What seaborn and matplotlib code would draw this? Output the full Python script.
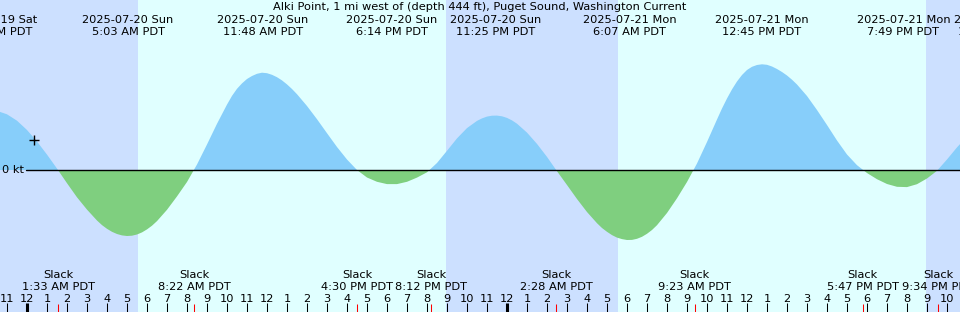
import numpy as np
import matplotlib
matplotlib.use("Agg")
import matplotlib.pyplot as plt
import matplotlib.transforms as mtransforms
import seaborn as sns

# ---------------- data ----------------
# hours since 2025-07-20 00:00 PDT and current speed (kt, + flood / - ebb)
hours = [
    -1.5, -1.0, -0.5, 0.0, 0.5, 1.0, 1.5, 2.0, 2.5, 3.0,
    3.5, 3.75, 4.0, 4.25, 4.5, 4.75, 5.0, 5.25, 5.5, 5.75,
    6.0, 6.25, 6.5, 7.0, 7.5, 8.0, 8.5, 9.0, 9.5, 10.0,
    10.25, 10.5, 10.75, 11.0, 11.25, 11.5, 11.75, 12.0, 12.25, 12.5,
    12.75, 13.0, 13.25, 13.5, 14.0, 14.5, 15.0, 15.5, 16.0, 16.5,
    17.0, 17.5, 18.0, 18.5, 19.0, 19.5, 20.0, 20.5, 21.0, 21.5,
    22.0, 22.5, 22.75, 23.0, 23.25, 23.5, 23.75, 24.0, 24.25, 24.5,
    25.0, 25.5, 26.0, 26.5, 27.0, 27.5, 28.0, 28.5, 28.75, 29.0,
    29.25, 29.5, 29.75, 30.0, 30.25, 30.5, 30.75, 31.0, 31.25, 31.5,
    32.0, 32.5, 33.0, 33.5, 34.0, 34.5, 34.75, 35.0, 35.25, 35.5,
    35.75, 36.0, 36.25, 36.5, 36.75, 37.0, 37.25, 37.5, 37.75, 38.0,
    38.25, 38.5, 39.0, 39.5, 40.0, 40.5, 41.0, 41.5, 42.0, 42.5,
    43.0, 43.5, 44.0, 44.5, 45.0, 45.5, 46.0, 46.5, 47.0,
]
current_kt = [
    0.591, 0.557, 0.493, 0.400, 0.285, 0.154, 0.014, -0.132, -0.273, -0.396,
    -0.505, -0.551, -0.588, -0.618, -0.640, -0.654, -0.660, -0.657, -0.645, -0.624,
    -0.594, -0.557, -0.511, -0.398, -0.264, -0.120, 0.055, 0.255, 0.462, 0.654,
    0.741, 0.812, 0.866, 0.910, 0.940, 0.962, 0.973, 0.968, 0.952, 0.928,
    0.896, 0.856, 0.810, 0.758, 0.640, 0.508, 0.368, 0.230, 0.105, 0.000,
    -0.075, -0.118, -0.141, -0.141, -0.118, -0.076, -0.023, 0.070, 0.192, 0.316,
    0.419, 0.491, 0.516, 0.534, 0.543, 0.544, 0.537, 0.521, 0.496, 0.463,
    0.374, 0.261, 0.131, -0.012, -0.150, -0.290, -0.420, -0.532, -0.580, -0.618,
    -0.651, -0.676, -0.691, -0.700, -0.699, -0.688, -0.668, -0.638, -0.600, -0.552,
    -0.430, -0.283, -0.120, 0.065, 0.280, 0.505, 0.615, 0.715, 0.806, 0.885,
    0.950, 1.000, 1.032, 1.050, 1.057, 1.052, 1.035, 1.010, 0.980, 0.945,
    0.903, 0.855, 0.740, 0.600, 0.450, 0.295, 0.155, 0.048, -0.030, -0.092,
    -0.140, -0.168, -0.171, -0.142, -0.085, -0.008, 0.105, 0.226, 0.335,
]

# max flood / max ebb events (top labels)
event_hours = [-1.7, 5.05, 11.8, 18.233, 23.417, 30.117, 36.75, 43.817, 48.55]
event_dates = ["2025-07-19 Sat", "2025-07-20 Sun", "2025-07-20 Sun", "2025-07-20 Sun",
               "2025-07-20 Sun", "2025-07-21 Mon", "2025-07-21 Mon", "2025-07-21 Mon",
               "2025-07-22 Tue"]
event_times = ["10:18 PM PDT", "5:03 AM PDT", "11:48 AM PDT", "6:14 PM PDT",
               "11:25 PM PDT", "6:07 AM PDT", "12:45 PM PDT", "7:49 PM PDT",
               "12:33 AM PDT"]

# slack events (bottom labels)
slack_hours = [1.55, 8.367, 16.5, 20.2, 26.467, 33.383, 41.783, 45.567]
slack_times = ["1:33 AM PDT", "8:22 AM PDT", "4:30 PM PDT", "8:12 PM PDT",
               "2:28 AM PDT", "9:23 AM PDT", "5:47 PM PDT", "9:34 PM PDT"]

# night periods (sunset -> sunrise)
night_start = [-3.0, 20.95, 44.95]
night_end = [5.55, 29.55, 50.0]

# hour ticks
tick_hours = list(range(-1, 47))

# current-time marker
now_hour = 0.365
now_value = 0.305

title = "Alki Point, 1 mi west of (depth 444 ft), Puget Sound, Washington Current"

# ---------------- style ----------------
night_color = "#CCE0FF"
day_color = "#E0FFFF"
flood_color = "#87CEFA"
ebb_color = "#7FCF7F"

sns.set_theme(style="white")
plt.rcParams["font.family"] = ["DejaVu Sans"]
FS = 8.2

fig = plt.figure(figsize=(9.6, 3.12), dpi=100)
ax = fig.add_axes([0, 0, 1, 1])
ax.set_xlim(-1.35, 46.65)
ax.set_ylim(-1.42, 1.70)
ax.set_facecolor(day_color)
for s in ax.spines.values():
    s.set_visible(False)

for s, e in zip(night_start, night_end):
    ax.axvspan(s, e, color=night_color, lw=0, zorder=0)

t = np.array(hours)
v = np.array(current_kt)
ax.fill_between(t, v, 0, where=v >= 0, interpolate=True,
                color=flood_color, lw=0, zorder=1)
ax.fill_between(t, v, 0, where=v <= 0, interpolate=True,
                color=ebb_color, lw=0, zorder=1)

# zero line and label
sns.lineplot(x=[-0.05, 47.0], y=[0.0, 0.0], color="black", lw=1.0, ax=ax,
             zorder=3)
ax.text(-0.15, 0, "0 kt", ha="right", va="center", fontsize=FS, color="black",
        zorder=4)

# current time marker
ax.plot([now_hour], [now_value], marker="+", ms=7, mew=1.0, color="black",
        zorder=4)

ax.set_xlim(-1.35, 46.65)
ax.set_ylim(-1.42, 1.70)
ax.set_xticks([])
ax.set_yticks([])
ax.set_xlabel("")
ax.set_ylabel("")

trans = mtransforms.blended_transform_factory(ax.transData, ax.transAxes)
H = 312.0


def yf(px):
    return (H - px) / H


# title and top event labels
fig.text(0.5, yf(10.3), title, ha="center", va="baseline", fontsize=FS,
         color="black")
for h, d, tt in zip(event_hours, event_dates, event_times):
    ax.text(h, yf(23.3), d, transform=trans, ha="center", va="baseline",
            fontsize=FS, color="black", clip_on=False, zorder=5)
    ax.text(h, yf(35.3), tt, transform=trans, ha="center", va="baseline",
            fontsize=FS, color="black", clip_on=False, zorder=5)

# slack labels
for h, tt in zip(slack_hours, slack_times):
    ax.text(h, yf(278.3), "Slack", transform=trans, ha="center",
            va="baseline", fontsize=FS, color="black", zorder=5)
    ax.text(h, yf(290.0), tt, transform=trans, ha="center", va="baseline",
            fontsize=FS, color="black", zorder=5)

# hour ticks and labels
for h in tick_hours:
    lw = 2.2 if h % 24 == 0 else 0.75
    ax.plot([h, h], [0, 9 / H], transform=trans, color="black", lw=lw,
            solid_capstyle="butt", zorder=5)
    lab = str(h % 12 if h % 12 != 0 else 12)
    ax.text(h, yf(301.7), lab, transform=trans, ha="center", va="baseline",
            fontsize=FS, color="black", zorder=5)

for h in slack_hours:
    ax.plot([h, h], [0, 8 / H], transform=trans, color="red", lw=0.75,
            solid_capstyle="butt", zorder=6)

fig.savefig("out.png", dpi=100)
